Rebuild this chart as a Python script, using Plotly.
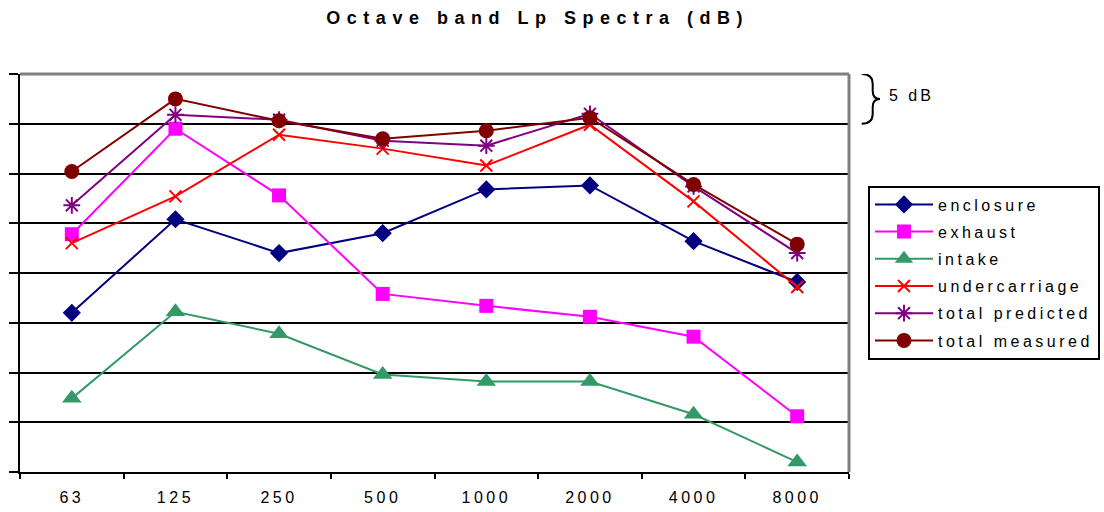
import plotly.graph_objects as go

# ---- data (relative dB, bottom grid line = 0, 5 dB per grid step) ----
bands = ["63", "125", "250", "500", "1000", "2000", "4000", "8000"]
enclosure = [16.0, 25.4, 22.0, 24.0, 28.4, 28.8, 23.2, 19.1]
exhaust = [23.9, 34.5, 27.8, 17.9, 16.7, 15.6, 13.6, 5.6]
intake = [7.4, 16.1, 13.9, 9.8, 9.1, 9.1, 5.8, 1.0]
undercarriage = [23.0, 27.7, 33.9, 32.5, 30.8, 34.9, 27.2, 18.6]
total_predicted = [26.8, 35.9, 35.4, 33.3, 32.8, 36.0, 28.7, 22.0]
total_measured = [30.2, 37.5, 35.3, 33.5, 34.3, 35.6, 28.9, 22.9]
y_ticks = [0, 5, 10, 15, 20, 25, 30, 35, 40]

FONT = "Liberation Sans, Arial, sans-serif"


def spaced(t, px):
    return f'<span style="letter-spacing:{px}px">{t}</span>'


series = [
    ("enclosure", enclosure, "#000080", "diamond", 14, 0),
    ("exhaust", exhaust, "#FF00FF", "square", 14, 0),
    ("intake", intake, "#339966", "triangle-up", 17, 0),
    ("undercarriage", undercarriage, "#FF0000", "x-thin", 12, 2),
    ("total predicted", total_predicted, "#800080", "asterisk", 14, 2),
    ("total measured", total_measured, "#800000", "circle", 15, 0),
]

fig = go.Figure()
for i, (name, vals, col, sym, size, lw) in enumerate(series):
    marker = dict(symbol=sym, size=size, color=col)
    if lw:
        marker["line"] = dict(color=col, width=lw)
    fig.add_trace(go.Scatter(
        x=bands, y=vals, name=spaced(name, 3.5), mode="lines+markers",
        line=dict(color=col, width=2), marker=marker,
        legendgroup=f"g{i}",
    ))

fig.update_layout(
    width=1104, height=512, autosize=False,
    margin=dict(l=20, r=255, t=74, b=40, pad=0),
    paper_bgcolor="white", plot_bgcolor="white",
    font=dict(family=FONT, size=16, color="black"),
    title=dict(
        text="<b>" + spaced("Octave band Lp Spectra (dB)", 6.5) + "</b>",
        x=0.487, xanchor="center", xref="container",
        y=1 - 18 / 512, yanchor="middle", yref="container",
        font=dict(family=FONT, size=18, color="black"),
    ),
    showlegend=True,
    legend=dict(
        xref="container", yref="container",
        x=868 / 1104, xanchor="left", y=1 - 185.5 / 512, yanchor="top",
        bordercolor="black", borderwidth=2, bgcolor="white",
        font=dict(family=FONT, size=16, color="black"),
        itemwidth=58, tracegroupgap=3.4, itemclick=False,
    ),
    xaxis=dict(
        type="category", range=[-0.5, 7.5], automargin=False,
        tickmode="array", tickvals=bands, ticktext=[spaced(b, 3.5) for b in bands],
        tickson="boundaries", ticks="outside", ticklen=5, tickwidth=2, tickcolor="black",
        showline=True, linecolor="black", linewidth=2, showgrid=False,
        tickfont=dict(family=FONT, size=16, color="black"),
        ticklabelstandoff=10, zeroline=False,
    ),
    yaxis=dict(
        range=[0, 40], tickmode="array", tickvals=y_ticks, showticklabels=False,
        automargin=False,
        ticks="outside", ticklen=9, tickwidth=2, tickcolor="black",
        showline=True, linecolor="black", linewidth=2,
        showgrid=True, gridcolor="black", gridwidth=1.5, zeroline=False,
    ),
)

# grey plot-area border on top and right
fig.add_shape(type="line", xref="paper", yref="paper", x0=0, x1=1, y0=1, y1=1,
              line=dict(color="#808080", width=3))
fig.add_shape(type="line", xref="paper", yref="paper", x0=1, x1=1, y0=0, y1=1,
              line=dict(color="#808080", width=3))

# 5 dB brace
xa, xb, xc = 1.0153, 1.0286, 1.0374
brace = (f"M{xa},40 Q{xb},40 {xb},39 L{xb},38.3 Q{xb},37.5 {xc},37.5 "
         f"Q{xb},37.5 {xb},36.7 L{xb},36 Q{xb},35 {xa},35")
fig.add_shape(type="path", xref="paper", yref="y", path=brace,
              line=dict(color="black", width=2))
fig.add_annotation(xref="paper", yref="paper", x=1.046, xanchor="left",
                   y=0.945, yanchor="middle", showarrow=False,
                   text=spaced("5 dB", 3), font=dict(family=FONT, size=16, color="black"))

fig.write_html("out.html", config={"displayModeBar": False},
               post_script="document.body.style.margin='0';")
